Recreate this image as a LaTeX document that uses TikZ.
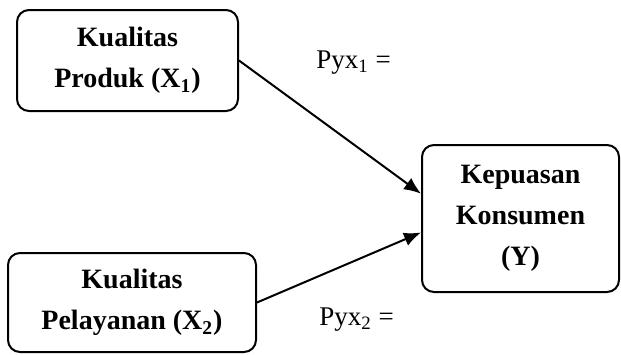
\documentclass[tikz,border=0pt]{standalone}
\usepackage{fontspec}
\setmainfont{Liberation Serif}
\usetikzlibrary{positioning,arrows.meta}

\begin{document}
\begin{tikzpicture}[
    x=0.5pt, y=-0.5pt,
    box/.style={draw, rounded corners=6pt, align=center, line width=1pt,
      font=\fontsize{14}{20.5}\selectfont\bfseries, inner sep=2pt},
    lbl/.style={font=\fontsize{13.5}{15}\selectfont, inner sep=0pt, anchor=base west},
    arr/.style={-{Latex[length=8.5pt,width=7pt]}, line width=1pt}
]
\useasboundingbox (0,0) rectangle (621,354);
\node[box, minimum width=110.5pt, minimum height=50.5pt] (prod) at (127.5,60.5)
  {Kualitas\\Produk (X\textsubscript{1})};
\node[box, minimum width=124pt, minimum height=49.5pt] (pel) at (132,302.5)
  {Kualitas\\Pelayanan (X\textsubscript{2})};
\node[box, minimum width=98.5pt, minimum height=73.5pt] (kep) at (520.5,218.5)
  {Kepuasan\\Konsumen\\(Y)};
\node[lbl] (p1) at (316,68) {Pyx\textsubscript{1} =};
\node[lbl] (p2) at (319,325) {Pyx\textsubscript{2} =};
\draw[arr] (prod.east) -- (kep.166);
\draw[arr] (pel.east) -- (kep.188);
\end{tikzpicture}
\end{document}
